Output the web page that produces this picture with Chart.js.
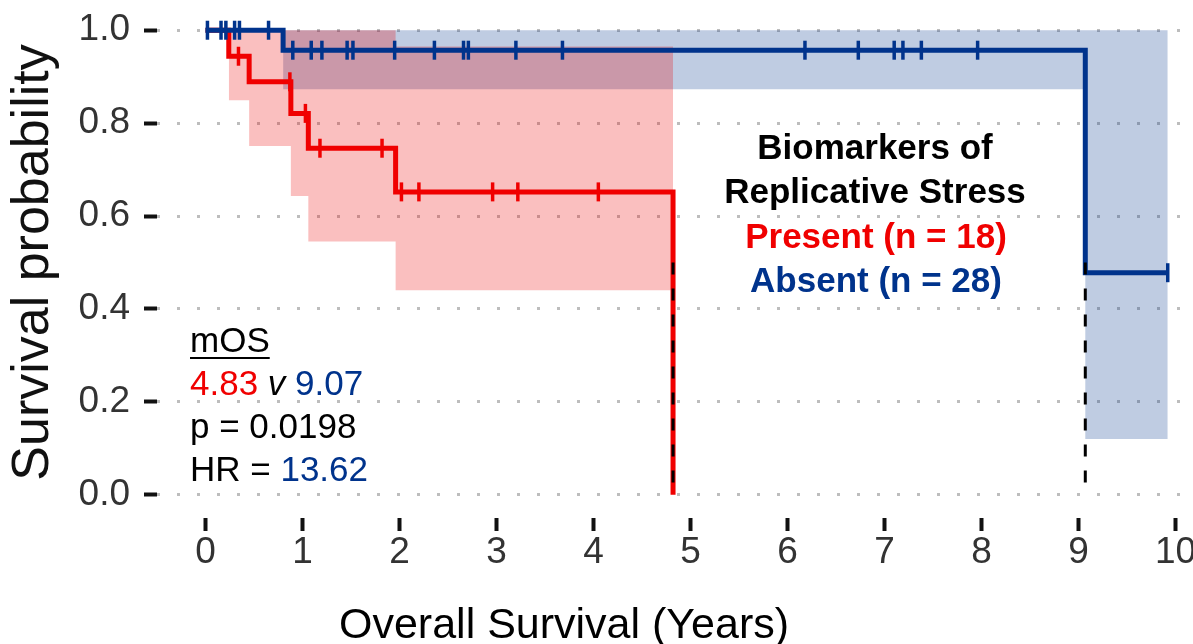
<!DOCTYPE html>
<html>
<head>
<meta charset="utf-8">
<title>Overall survival - biomarkers of replicative stress</title>
<script src="https://cdn.jsdelivr.net/npm/chart.js@4.4.1/dist/chart.umd.min.js"></script>
<style>
    html, body { margin: 0; padding: 0; background: #fff; overflow: hidden; }
    canvas { display: block; }
</style>
</head>
<body>
<canvas id="kmChart" width="1224" height="644"></canvas>
<script>
/* ============================================
   Kaplan-Meier: replicative stress biomarkers
   ============================================ */

// axis ticks
const xTicks = [0, 1, 2, 3, 4, 5, 6, 7, 8, 9, 10];
const yTicks = [0, 0.2, 0.4, 0.6, 0.8, 1.0];

// Present (n = 18) - red
const presentTimes = [0, 0.24, 0.45, 0.88, 1.06, 1.96, 4.82];
const presentSurv = [1, 0.944, 0.889, 0.821, 0.746, 0.652, 0];
const presentCensor = [0.34, 0.87, 1.03, 1.18, 1.82, 2.02, 2.20, 2.96, 3.22, 4.05];
const presentBandTimes = [0.24, 0.45, 0.88, 1.06, 1.96, 4.82];
const presentUpper = [1, 1, 1, 1, 0.965, 0.965];
const presentLower = [0.849, 0.751, 0.643, 0.545, 0.44, 0.44];

// Absent (n = 28) - navy
const absentTimes = [0, 0.80, 9.07, 9.92];
const absentSurv = [1, 0.957, 0.478, 0.478];
const absentCensor = [0.02, 0.16, 0.21, 0.30, 0.35, 0.65, 0.90, 1.09, 1.20, 1.46, 1.52,
    1.95, 2.36, 2.66, 2.71, 3.20, 3.68, 6.18, 6.73, 7.10, 7.19, 7.38, 7.96, 9.92];
const absentBandTimes = [0.80, 9.07, 9.92];
const absentUpper = [1, 1, 1];
const absentLower = [0.873, 0.12, 0.12];

// median survival (dashed drop lines)
const medianTimes = [4.82, 9.07];

const RED = '#F00000';
const NAVY = '#00338C';
const FONT = "'Liberation Sans', Arial, sans-serif";

Chart.defaults.font.family = FONT;

function toPoints(xs, ys) {
    return xs.map((x, i) => ({ x: x, y: ys[i] }));
}

// survival level of a step curve at time t
function levelAt(times, surv, t) {
    let s = surv[0];
    times.forEach((tt, i) => { if (tt <= t) s = surv[i]; });
    return s;
}

function bandPair(xs, upper, lower, fillColor, order) {
    return [
        {
            data: toPoints(xs, upper), stepped: 'before', borderWidth: 0,
            borderColor: 'rgba(0,0,0,0)', pointRadius: 0, fill: false, order: order
        },
        {
            data: toPoints(xs, lower), stepped: 'before', borderWidth: 0,
            borderColor: 'rgba(0,0,0,0)', pointRadius: 0, fill: '-1',
            backgroundColor: fillColor, order: order
        }
    ];
}

function curve(xs, ys, color, order) {
    return {
        data: toPoints(xs, ys), stepped: 'before', borderColor: color, borderWidth: 5,
        pointRadius: 0, fill: false, order: order, borderJoinStyle: 'miter'
    };
}

function censorMarks(ts, times, surv, color, order) {
    return {
        data: ts.map(t => ({ x: t, y: levelAt(times, surv, t) })),
        showLine: false, pointStyle: 'line', rotation: 90, pointRadius: 9.5,
        pointBorderWidth: 3.5, pointBorderColor: color, borderColor: color, order: order
    };
}

const datasets = [
    ...bandPair(absentBandTimes, absentUpper, absentLower, 'rgba(0,51,141,0.25)', 10),
    ...bandPair(presentBandTimes, presentUpper, presentLower, 'rgba(235,0,0,0.25)', 9),
    curve(presentTimes, presentSurv, RED, 8),
    curve(absentTimes, absentSurv, NAVY, 7),
    censorMarks(presentCensor, presentTimes, presentSurv, RED, 6),
    censorMarks(absentCensor, absentTimes, absentSurv, NAVY, 5),
    ...medianTimes.map(t => ({
        data: [{ x: t, y: 0.5 }, { x: t, y: 0 }], borderColor: '#000', borderWidth: 3,
        borderDash: [12, 14], pointRadius: 0, fill: false, order: 1
    }))
];

// free text: legend block, mOS block, x axis title
const textPlugin = {
    id: 'kmText',
    afterDraw(chart) {
        const ctx = chart.ctx;
        ctx.save();
        ctx.textBaseline = 'alphabetic';

        // legend block
        ctx.textAlign = 'center';
        ctx.font = 'bold 35px ' + FONT;
        ctx.fillStyle = '#000';
        ctx.fillText('Biomarkers of', 875, 159);
        ctx.fillText('Replicative Stress', 875, 203);
        ctx.fillStyle = RED;
        ctx.fillText('Present (n = 18)', 876, 248);
        ctx.fillStyle = NAVY;
        ctx.fillText('Absent (n = 28)', 876, 292);

        // mOS block
        ctx.textAlign = 'left';
        ctx.font = '35px ' + FONT;
        let x = 190;
        ctx.fillStyle = '#000';
        ctx.fillText('mOS', x, 352);
        const w = ctx.measureText('mOS').width;
        ctx.fillRect(x, 357, w, 2);

        ctx.fillStyle = RED;
        ctx.fillText('4.83', x, 395);
        x += ctx.measureText('4.83 ').width;
        ctx.fillStyle = '#000';
        ctx.font = 'italic 35px ' + FONT;
        ctx.fillText('v', x, 395);
        x += ctx.measureText('v ').width;
        ctx.font = '35px ' + FONT;
        ctx.fillStyle = NAVY;
        ctx.fillText('9.07', x, 395);

        ctx.fillStyle = '#000';
        ctx.fillText('p = 0.0198', 190, 438);
        ctx.fillText('HR = ', 190, 481);
        ctx.fillStyle = NAVY;
        ctx.fillText('13.62', 190 + ctx.measureText('HR = ').width, 481);

        // x axis title
        ctx.fillStyle = '#000';
        ctx.font = '43px ' + FONT;
        ctx.fillText('Overall Survival (Years)', 339, 638);
        ctx.restore();
    }
};

new Chart(document.getElementById('kmChart'), {
    type: 'line',
    data: { datasets: datasets },
    options: {
        responsive: false,
        animation: false,
        events: [],
        layout: { autoPadding: false, padding: { top: 7, left: 0, right: 0, bottom: 0 } },
        plugins: { legend: { display: false }, tooltip: { enabled: false } },
        scales: {
            x: {
                type: 'linear', min: -0.5, max: 10.5,
                afterBuildTicks: s => { s.ticks = xTicks.map(v => ({ value: v })); },
                afterFit: s => { s.height = 126; s.paddingLeft = 0; s.paddingRight = 0; },
                ticks: { font: { size: 37 }, color: '#333', padding: 0, maxRotation: 0 },
                grid: {
                    drawOnChartArea: false, drawTicks: true, tickLength: 13,
                    tickWidth: 4, tickColor: '#111'
                },
                border: { display: false }
            },
            y: {
                type: 'linear', min: -0.05, max: 1.05,
                afterBuildTicks: s => { s.ticks = yTicks.map(v => ({ value: v })); },
                afterFit: s => { s.width = 157; s.paddingTop = 0; s.paddingBottom = 0; },
                ticks: {
                    font: { size: 37 }, color: '#333', padding: 14,
                    callback: v => v.toFixed(1)
                },
                grid: {
                    color: '#bdbdbd', lineWidth: 3, drawTicks: true, tickLength: 13,
                    tickWidth: 4, tickColor: '#111', tickBorderDash: []
                },
                border: { display: false, dash: [3, 17] },
                title: {
                    display: true, text: 'Survival probability', color: '#111',
                    font: { size: 52 }, padding: { top: 2, bottom: 0 }
                }
            }
        }
    },
    plugins: [textPlugin]
});
</script>
</body>
</html>
